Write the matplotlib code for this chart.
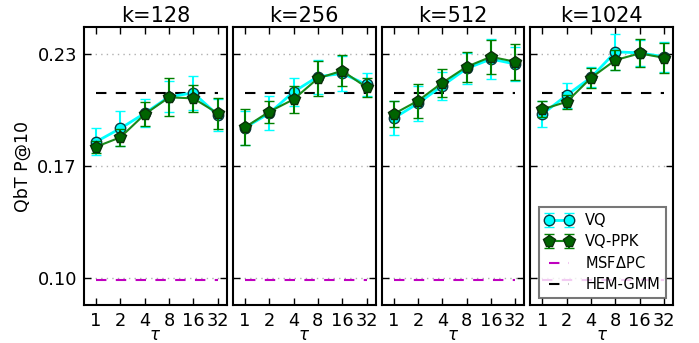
import matplotlib
matplotlib.use("Agg")
import matplotlib.pyplot as plt
from matplotlib.ticker import FixedLocator, FixedFormatter, NullLocator

taus = [1, 2, 4, 8, 16, 32]
tau_labels = ["1", "2", "4", "8", "16", "32"]
ks = [128, 256, 512, 1024]

vq = [
    [0.1791, 0.1869, 0.1957, 0.2053, 0.2076, 0.1947],
    [0.1873, 0.1957, 0.2082, 0.2170, 0.2189, 0.2125],
    [0.1928, 0.2015, 0.2117, 0.2218, 0.2273, 0.2244],
    [0.1953, 0.2063, 0.2166, 0.2315, 0.2309, 0.2286],
]
vq_err = [
    [0.0078, 0.0100, 0.0082, 0.0090, 0.0100, 0.0093],
    [0.0100, 0.0100, 0.0080, 0.0100, 0.0100, 0.0066],
    [0.0100, 0.0100, 0.0082, 0.0088, 0.0116, 0.0100],
    [0.0076, 0.0073, 0.0058, 0.0105, 0.0076, 0.0088],
]
ppk = [
    [0.1762, 0.1817, 0.1951, 0.2050, 0.2044, 0.1957],
    [0.1875, 0.1966, 0.2038, 0.2160, 0.2205, 0.2108],
    [0.1953, 0.2030, 0.2135, 0.2228, 0.2286, 0.2257],
    [0.1980, 0.2024, 0.2164, 0.2267, 0.2306, 0.2280],
]
ppk_err = [
    [0.0035, 0.0050, 0.0070, 0.0110, 0.0078, 0.0090],
    [0.0105, 0.0065, 0.0080, 0.0100, 0.0090, 0.0055],
    [0.0075, 0.0100, 0.0082, 0.0088, 0.0100, 0.0105],
    [0.0047, 0.0041, 0.0058, 0.0058, 0.0082, 0.0088],
]
msfdpc = 0.0986
hem_gmm = 0.2076

yticks = [0.10, 0.165, 0.23]
ytick_labels = ["0.10", "0.17", "0.23"]

fig, axes = plt.subplots(1, 4, figsize=(6.99, 3.43), dpi=100, sharey=True)
fig.subplots_adjust(left=0.120, right=0.963, bottom=0.111, top=0.921, wspace=0.042)

for i, ax in enumerate(axes):
    ax.set_xscale("log", base=2)
    h1 = ax.errorbar(taus, vq[i], yerr=vq_err[i], color="cyan", ecolor="cyan",
                     marker="o", markersize=7.5, markerfacecolor="cyan",
                     markeredgecolor="#0a3a40", markeredgewidth=1.0, lw=2,
                     capsize=3.5, elinewidth=1.5, capthick=1.5, label="VQ", zorder=3)
    h2 = ax.errorbar(taus, ppk[i], yerr=ppk_err[i], color="#1a8a1a", ecolor="green",
                     marker="p", markersize=8.5, markerfacecolor="darkgreen",
                     markeredgecolor="#0a300a", markeredgewidth=1.0, lw=1.5,
                     capsize=3.5, elinewidth=1.5, capthick=1.5, label="VQ-PPK", zorder=4)
    h3, = ax.plot(taus, [msfdpc] * len(taus), color="m", ls=(0, (5, 4.5)), lw=1.5,
                  label="MSF$\\Delta$PC", zorder=2)
    h4, = ax.plot(taus, [hem_gmm] * len(taus), color="k", ls=(0, (5, 4.5)), lw=1.5,
                  label="HEM-GMM", zorder=2)
    ax.set_xlim(2 ** -0.5, 2 ** 5.37)
    ax.set_ylim(0.0841, 0.2459)
    ax.xaxis.set_major_locator(FixedLocator(taus))
    ax.xaxis.set_major_formatter(FixedFormatter(tau_labels))
    ax.xaxis.set_minor_locator(NullLocator())
    ax.yaxis.set_major_locator(FixedLocator(yticks))
    ax.yaxis.set_major_formatter(FixedFormatter(ytick_labels))
    ax.yaxis.set_minor_locator(NullLocator())
    ax.tick_params(direction="in", top=True, right=True, length=5, width=1,
                   labelsize=12.8, pad=5)
    ax.grid(axis="y", color="#b0b0b0", ls=(0, (1, 3)), lw=1)
    for s in ax.spines.values():
        s.set_linewidth(1.5)
    ax.set_title(f"k={ks[i]}", fontsize=15, pad=4)
    ax.set_xlabel(r"$\tau$", fontsize=12, labelpad=-2.5)
    handles = [h1, h2, h3, h4]

axes[0].set_ylabel("QbT P@10", fontsize=12.5)
leg = axes[3].legend(handles=handles, labels=["VQ", "VQ-PPK", "MSF$\\Delta$PC", "HEM-GMM"],
                     loc="lower right", fontsize=10.5, numpoints=2, labelspacing=0.4,
                     fancybox=False, framealpha=0.8, edgecolor="#555555",
                     borderaxespad=0.5, handlelength=2.0)
leg.get_frame().set_linewidth(1.5)

fig.savefig("out.png", dpi=100)
